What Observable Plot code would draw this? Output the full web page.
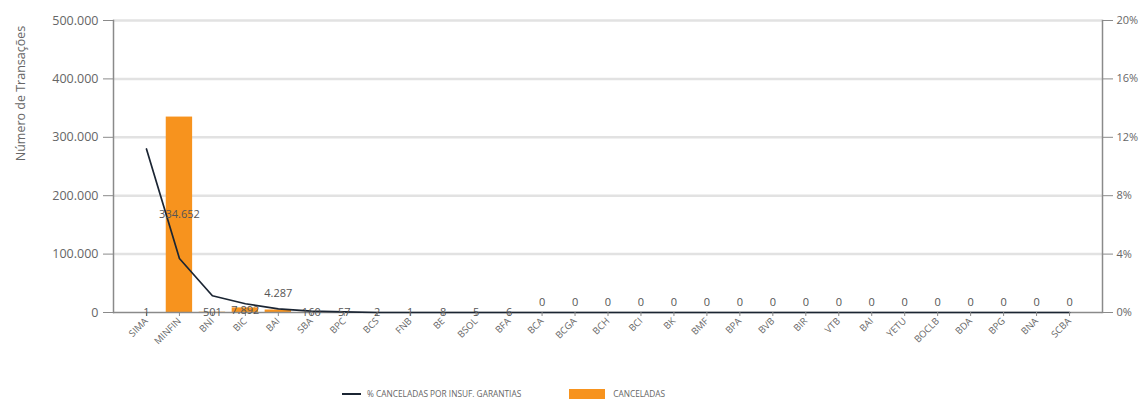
<!DOCTYPE html>
<html>
<head>
<meta charset="utf-8">
<script src="https://cdn.jsdelivr.net/npm/d3@7"></script>
<script src="https://cdn.jsdelivr.net/npm/@observablehq/plot@0.6"></script>
<style>
  body { margin: 0; background: #fff; font-family: "Open Sans", sans-serif; }
  #wrap { position: relative; width: 1145px; height: 403px; }
  #legend { position: absolute; left: 342px; top: 388px; display: flex; align-items: center; font-size: 8.3px; color: #666; }
  .sw-line { width: 19px; height: 2px; background: #1b2533; margin-right: 6px; }
  .sw-box { width: 36px; height: 10px; background: #f7931e; margin-left: 48px; margin-right: 8px; }
</style>
</head>
<body>
<div id="wrap">
  <div id="chart"></div>
  <div id="legend">
    <div class="sw-line"></div><span id="lg1"></span>
    <div class="sw-box"></div><span id="lg2"></span>
  </div>
</div>
<script>
const banks = ["SIMA","MINFIN","BNI","BIC","BAI","SBA","BPC","BCS","FNB","BE","BSOL","BFA","BCA","BCGA","BCH","BCI","BK","BMF","BPA","BVB","BIR","VTB","BAI","YETU","BOCLB","BDA","BPG","BNA","SCBA"];
const canceladas = [1,334652,501,7892,4287,160,57,2,1,8,5,6,0,0,0,0,0,0,0,0,0,0,0,0,0,0,0,0,0];
const pctInsuf = [11.2,3.7,1.15,0.6,0.25,0.1,0.04,0,0,0,0,0,0,0,0,0,0,0,0,0,0,0,0,0,0,0,0,0,0];
const leftTicks = [0,100000,200000,300000,400000,500000];
const rightTicks = [0,4,8,12,16,20];
const yTitle = "Número de Transações";
const seriesLine = "% CANCELADAS POR INSUF. GARANTIAS";
const seriesBar = "CANCELADAS";

const pctToY = 500000 / 20;
const fmt = d3.formatLocale({decimal: ",", thousands: ".", grouping: [3], currency: ["", ""]}).format(",");
const idx = d3.range(banks.length);
const gray = "#8a8a8a";
const textGray = "#666";

const isAbove = i => canceladas[i] >= 4000 && canceladas[i] < 5000;
const centerIdx = idx.filter(i => canceladas[i] > 0 && !isAbove(i));
const zeroIdx = idx.filter(i => canceladas[i] === 0);
const aboveIdx = idx.filter(isAbove);

const chart = Plot.plot({
  width: 1145,
  height: 375,
  marginLeft: 113,
  marginRight: 43,
  marginTop: 20,
  marginBottom: 63,
  style: {fontFamily: "Open Sans, sans-serif", background: "#fff"},
  x: {type: "band", domain: idx, paddingInner: 0.2, paddingOuter: 0.6, round: false},
  y: {domain: [0, 500000]},
  marks: [
    Plot.gridY(leftTicks.slice(1), {stroke: "#e2e2e2", strokeOpacity: 1, strokeWidth: 2.5}),
    Plot.barY(idx, {x: i => i, y: i => canceladas[i], fill: "#f7931e"}),
    Plot.ruleY([0], {stroke: gray, strokeWidth: 1.5}),
    Plot.lineY(idx, {x: i => i, y: i => pctInsuf[i] * pctToY, stroke: "#1b2533", strokeWidth: 1.7}),
    Plot.frame({anchor: "left", stroke: gray, strokeWidth: 1.5}),
    Plot.frame({anchor: "right", stroke: gray, strokeWidth: 1.5}),
    Plot.axisY({anchor: "left", ticks: leftTicks, tickFormat: fmt, tickSize: 10, tickPadding: 5, stroke: gray, fill: textGray, fontSize: 12.5, label: null}),
    Plot.axisY({anchor: "right", ticks: rightTicks.map(p => p * pctToY), tickFormat: d => Math.round(d / pctToY) + "%", tickSize: 10, tickPadding: 4, stroke: gray, fill: textGray, fontSize: 11, label: null}),
    Plot.axisX({tickFormat: i => banks[i], tickRotate: -45, tickSize: 4, tickPadding: 3, stroke: gray, fill: textGray, fontSize: 9.5, label: null}),
    Plot.text(centerIdx, {x: i => i, y: i => canceladas[i] / 2, text: i => fmt(canceladas[i]), fill: "#555", fontSize: 11}),
    Plot.text(zeroIdx, {x: i => i, y: 0, dy: -10, text: i => fmt(canceladas[i]), fill: "#555", fontSize: 11}),
    Plot.text(aboveIdx, {x: i => i, y: i => canceladas[i], dy: -17, text: i => fmt(canceladas[i]), fill: "#555", fontSize: 11}),
    Plot.text([yTitle], {frameAnchor: "top-left", rotate: -90, dx: -97, dy: 73, textAnchor: "middle", fill: textGray, fontSize: 12.5})
  ]
});
document.getElementById("chart").appendChild(chart);
document.getElementById("lg1").textContent = seriesLine;
document.getElementById("lg2").textContent = seriesBar;
</script>
</body>
</html>
